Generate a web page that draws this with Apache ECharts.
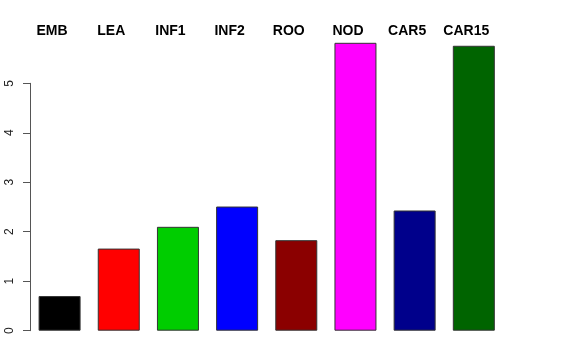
<!DOCTYPE html>
<html>
<head>
<meta charset="utf-8">
<script src="https://cdn.jsdelivr.net/npm/echarts@6/dist/echarts.min.js"></script>
<style>html,body{margin:0;padding:0;background:#fff}#c{width:576px;height:360px}</style>
</head>
<body>
<div id="c"></div>
<script>
var categories = ["EMB", "LEA", "INF1", "INF2", "ROO", "NOD", "CAR5", "CAR15"];
var values = [0.70, 1.66, 2.10, 2.51, 1.83, 5.82, 2.43, 5.76];
var yTicks = [0, 1, 2, 3, 4, 5];
var barColors = ["#000000", "#FF0000", "#00CD00", "#0000FF", "#8B0000", "#FF00FF", "#00008B", "#006400"];

var chart = echarts.init(document.getElementById('c'), null, {renderer: 'canvas'});
var font = '"Liberation Sans", Arial, Helvetica, sans-serif';
chart.setOption({
  animation: false,
  backgroundColor: '#ffffff',
  grid: [
    {left: 30, width: 473.4, top: 33.9, bottom: 29.3},
    {left: 30, width: 473.4, top: 83.3, bottom: 29.3}
  ],
  xAxis: [
    {
      gridIndex: 0, type: 'category', data: categories, position: 'top', offset: -4,
      axisLine: {show: false}, axisTick: {show: false},
      axisLabel: {fontFamily: font, fontWeight: 'bold', fontSize: 14, color: '#000', margin: 0, padding: [0, 15, 0, 0], interval: 0}
    },
    {gridIndex: 1, type: 'category', data: categories, show: false}
  ],
  yAxis: [
    {gridIndex: 0, type: 'value', min: 0, max: 6, show: false},
    {
      gridIndex: 1, type: 'value', min: yTicks[0], max: yTicks[yTicks.length - 1], interval: 1,
      axisLine: {show: true, lineStyle: {color: '#555', width: 1}},
      axisTick: {show: true, length: 7, lineStyle: {color: '#555', width: 1}},
      splitLine: {show: false},
      axisLabel: {rotate: 90, fontFamily: font, fontSize: 12, color: '#222', margin: 14}
    }
  ],
  series: [{
    type: 'bar', xAxisIndex: 0, yAxisIndex: 0, barWidth: 42,
    data: values.map(function (v, i) {
      return {value: v, itemStyle: {color: barColors[i], borderColor: '#333', borderWidth: 1}};
    })
  }]
});
</script>
</body>
</html>
